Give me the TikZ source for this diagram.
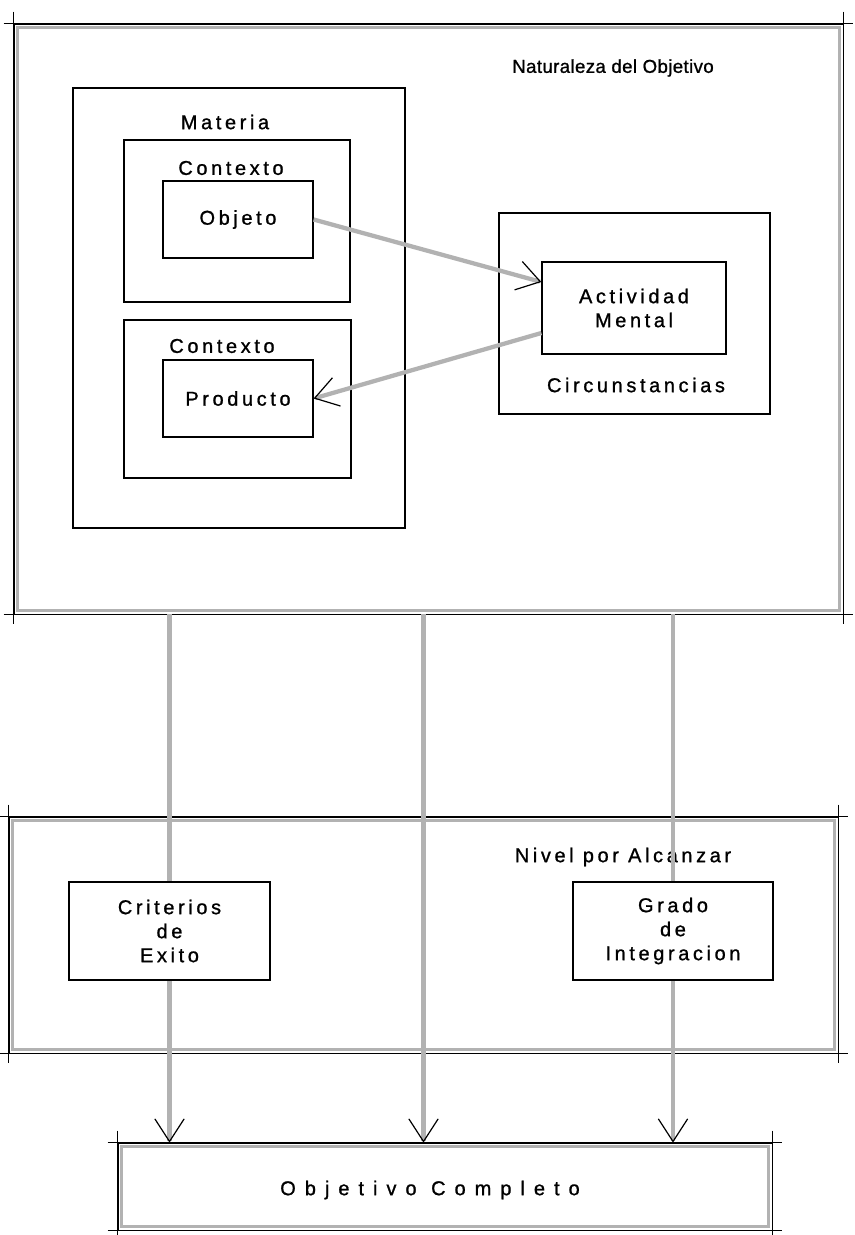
\documentclass[tikz,border=0pt]{standalone}
\usepackage{fontspec}
\newfontfamily\labelfont{Liberation Sans}[LetterSpace=18, FakeBold=1]
\newfontfamily\plainfont{Liberation Sans}[LetterSpace=2, FakeBold=1]
\newfontfamily\widefont{Liberation Sans}[LetterSpace=45, FakeBold=1]
\usetikzlibrary{arrows.meta}
\newcommand\dframe[1]{%
  \draw[gray!60, line width=1.8pt] ([shift={(4,4)}]#1.north west) rectangle ([shift={(-4,-4)}]#1.south east);
  \draw[line width=0.6pt] ([shift={(-10,0)}]#1.north west) -- ([shift={(10,0)}]#1.north east);
  \draw[line width=0.6pt] ([shift={(-10,0)}]#1.south west) -- ([shift={(10,0)}]#1.south east);
  \draw[line width=0.6pt] ([shift={(0,-12)}]#1.north west) -- ([shift={(0,10)}]#1.south west);
  \draw[line width=0.6pt] ([shift={(0,-12)}]#1.north east) -- ([shift={(0,10)}]#1.south east);}

\begin{document}
\begin{tikzpicture}[x=0.75pt, y=-0.75pt,
    box/.style={draw, line width=0.9pt, fill=white, inner sep=0pt, font=\labelfont\fontsize{15}{18}\selectfont, align=center},
    frame/.style={draw, line width=0.6pt, inner sep=0pt},
    lbl/.style={inner sep=0pt, font=\labelfont\fontsize{15}{18}\selectfont},
    flow/.style={draw=gray!60, line width=3.2pt, -{Straight Barb[color=black, line width=0.9pt, length=17pt, width=22pt]}}]
  \useasboundingbox (0,0) rectangle (854,1235);

  \node (nat) at (428.5, 319) [frame, minimum width=621.75pt, minimum height=442.5pt] {};
  \node (niv) at (423.5, 935) [frame, minimum width=621.75pt, minimum height=177pt] {};
  \node (obj) at (445, 1186.5) [frame, minimum width=490.5pt, minimum height=65.25pt] {};
  \dframe{nat}
  \dframe{niv}
  \dframe{obj}
  \node (objlbl) at (430, 1190) [inner sep=0pt, font=\widefont\fontsize{15}{18}\selectfont] {Objetivo Completo};

  \node (natlbl) at (613, 68) [inner sep=0pt, font=\plainfont\fontsize{14}{17}\selectfont] {Naturaleza del Objetivo};
  \node (materia) at (239, 308) [box, minimum width=249pt, minimum height=330pt] {};
  \node (matlbl) at (225, 122) [lbl] {Materia};
  \node (ctxa) at (237, 221) [box, minimum width=169.5pt, minimum height=121.5pt] {};
  \node (ctxalbl) at (231, 168) [lbl] {Contexto};
  \node (objeto) at (238, 219.5) [box, minimum width=112.5pt, minimum height=57.75pt] {Objeto};
  \node (ctxb) at (237.5, 399) [box, minimum width=170.25pt, minimum height=118.5pt] {};
  \node (ctxblbl) at (222, 346) [lbl] {Contexto};
  \node (producto) at (238, 398.5) [box, minimum width=112.5pt, minimum height=57.75pt] {Producto};
  \node (circ) at (634.5, 313.5) [box, minimum width=203.25pt, minimum height=150.75pt] {};
  \node (circlbl) at (636, 385) [lbl] {Circunstancias};
  \node (act) at (634, 308) [box, minimum width=138pt, minimum height=69pt] {Actividad\\Mental};

  \draw[flow] (objeto.east) -- ([shift={(0,-26)}]act.west);
  \draw[flow] ([shift={(0,25)}]act.west) -- (producto.east);

  \node (nivlbl) at (623, 857) [lbl] {Nivel por Alcanzar};
  \node (crit) at (169.5, 931) [box, minimum width=150.75pt, minimum height=73.5pt] {};
  \node (grad) at (673, 931) [box, minimum width=150pt, minimum height=73.5pt] {};

  \draw[flow] (nat.south -| crit) -- (obj.north -| crit);
  \draw[flow] (nat.south -| niv) -- (obj.north -| niv);
  \draw[flow] (nat.south -| grad) -- (obj.north -| grad);

  \node (crit) at (169.5, 931) [box, minimum width=150.75pt, minimum height=73.5pt] {Criterios\\de\\Exito};
  \node (grad) at (673, 931) [box, minimum width=150pt, minimum height=73.5pt] {Grado\\de\\Integracion};
\end{tikzpicture}
\end{document}
